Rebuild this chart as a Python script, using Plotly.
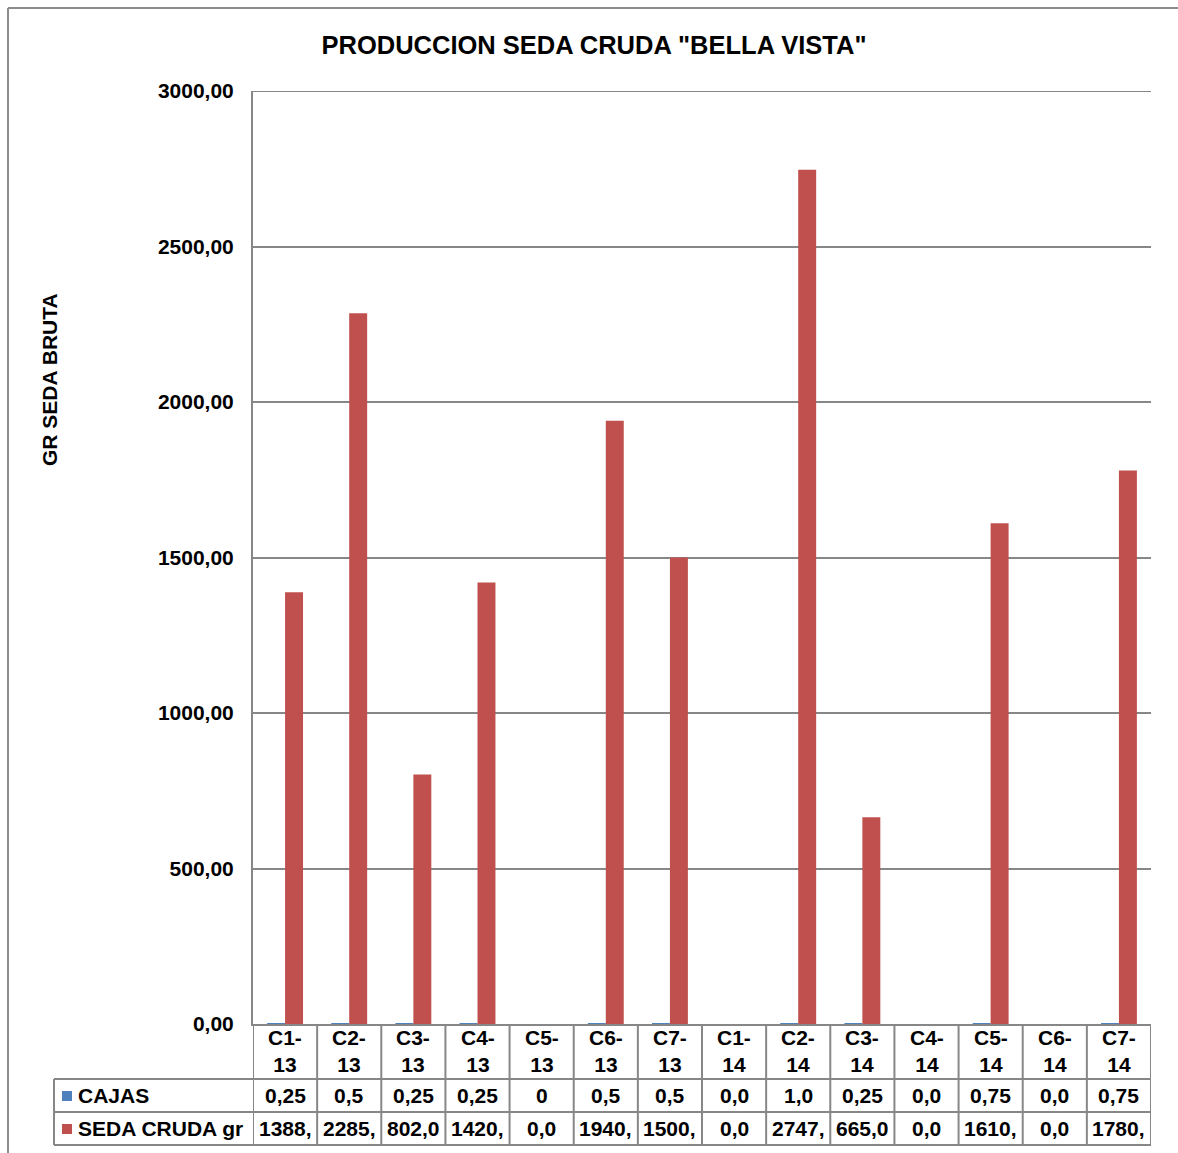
import plotly.graph_objects as go

# Cycle labels and values
categories = ["C1-13", "C2-13", "C3-13", "C4-13", "C5-13", "C6-13", "C7-13",
              "C1-14", "C2-14", "C3-14", "C4-14", "C5-14", "C6-14", "C7-14"]
cajas = [0.25, 0.5, 0.25, 0.25, 0, 0.5, 0.5, 0.0, 1.0, 0.25, 0.0, 0.75, 0.0, 0.75]
seda_cruda = [1388, 2285, 802, 1420, 0, 1940, 1500, 0, 2747, 665, 0, 1610, 0, 1780]

# Text shown in the data table cells (clipped as in the spreadsheet)
cajas_text = ["0,25", "0,5", "0,25", "0,25", "0", "0,5", "0,5",
              "0,0", "1,0", "0,25", "0,0", "0,75", "0,0", "0,75"]
seda_text = ["1388,", "2285,", "802,0", "1420,", "0,0", "1940,", "1500,",
             "0,0", "2747,", "665,0", "0,0", "1610,", "0,0", "1780,"]

series_names = ["CAJAS", "SEDA CRUDA gr"]
y_ticks = [0, 500, 1000, 1500, 2000, 2500, 3000]

W, H = 1178, 1153
PL, PR, PT, PB = 253, 1151, 91, 1024  # plot area in pixels
BLUE, RED = "#4F81BD", "#C0504D"
GRID = "#878787"
FONT = "Liberation Sans, Arial, sans-serif"


def px_x(px):
    return (px - PL) / (PR - PL)


def px_y(py):
    return (PB - py) / (PB - PT)


fig = go.Figure()
fig.add_trace(go.Bar(x=categories, y=cajas, name=series_names[0],
                     marker=dict(color=BLUE, line=dict(width=0))))
fig.add_trace(go.Bar(x=categories, y=seda_cruda, name=series_names[1],
                     marker=dict(color=RED, line=dict(width=0))))

shapes = []
ann = []
n = len(categories)

# Top gridline of the value axis
shapes.append(dict(type="line", xref="paper", yref="y", x0=0, x1=1,
                   y0=y_ticks[-1], y1=y_ticks[-1],
                   line=dict(color=GRID, width=2)))

# Data table grid
row_lines = [1079, 1112, 1145]
for py in row_lines:
    shapes.append(dict(type="line", xref="paper", yref="paper",
                       x0=px_x(54), x1=1, y0=px_y(py), y1=px_y(py),
                       line=dict(color=GRID, width=2)))
for i in range(n + 1):
    shapes.append(dict(type="line", xref="x", yref="paper",
                       x0=i - 0.5, x1=i - 0.5, y0=px_y(1145), y1=0,
                       line=dict(color=GRID, width=2)))
shapes.append(dict(type="line", xref="paper", yref="paper",
                   x0=px_x(54), x1=px_x(54), y0=px_y(1145), y1=px_y(1079),
                   line=dict(color=GRID, width=2)))

# Outer chart frame
shapes.append(dict(type="line", xref="paper", yref="paper",
                   x0=px_x(8), x1=px_x(1190), y0=px_y(8), y1=px_y(8),
                   line=dict(color="#8c8c8c", width=2)))
shapes.append(dict(type="line", xref="paper", yref="paper",
                   x0=px_x(8), x1=px_x(8), y0=px_y(8), y1=px_y(1165),
                   line=dict(color="#8c8c8c", width=2)))

# Legend keys in the table
for py, col in [(1096, BLUE), (1129, RED)]:
    shapes.append(dict(type="rect", xref="paper", yref="paper",
                       x0=px_x(62), x1=px_x(72), y0=px_y(py + 5), y1=px_y(py - 5),
                       fillcolor=col, line=dict(width=0)))

tfont = dict(family=FONT, size=21, color="black", weight="bold")
for name, py in zip(series_names, [1095, 1128]):
    ann.append(dict(x=px_x(76), y=px_y(py), xref="paper", yref="paper",
                    text=name, showarrow=False, xanchor="left",
                    yanchor="middle", font=tfont))

for i, cat in enumerate(categories):
    a, b = cat.split("-")
    ann.append(dict(x=i, y=px_y(1051), xref="x", yref="paper",
                    text=f"{a}-<br>{b}", showarrow=False,
                    yanchor="middle", font=tfont))
    ann.append(dict(x=i, y=px_y(1095), xref="x", yref="paper",
                    text=cajas_text[i], showarrow=False,
                    yanchor="middle", font=tfont))
    ann.append(dict(x=i, y=px_y(1128), xref="x", yref="paper",
                    text=seda_text[i], showarrow=False,
                    yanchor="middle", font=tfont))

# Y axis title
ann.append(dict(x=px_x(49), y=px_y(380), xref="paper", yref="paper",
                text="GR SEDA BRUTA", showarrow=False, textangle=-90,
                xanchor="center", yanchor="middle", font=tfont))

fig.update_layout(
    width=W, height=H,
    margin=dict(l=PL, r=W - PR, t=PT, b=H - PB, autoexpand=False),
    paper_bgcolor="white", plot_bgcolor="white",
    separators=",.",
    barmode="group", bargap=0.44, bargroupgap=0,
    showlegend=False,
    title=dict(text='PRODUCCION SEDA CRUDA "BELLA VISTA"',
               x=594 / W, xanchor="center", y=1 - 45 / H, yanchor="middle",
               font=dict(family=FONT, size=25.5, color="black", weight="bold")),
    xaxis=dict(showticklabels=False, ticks="", showgrid=False,
               showline=True, linecolor=GRID, linewidth=2,
               range=[-0.5, n - 0.5]),
    yaxis=dict(range=[0, 3000], tickvals=y_ticks, tickformat=".2f",
               showgrid=True, gridcolor=GRID, gridwidth=2,
               showline=True, linecolor=GRID, linewidth=2,
               ticks="", ticklabelstandoff=13, zeroline=False,
               tickfont=dict(family=FONT, size=21, color="black", weight="bold")),
    shapes=shapes, annotations=ann,
)

fig.write_html("out.html")
